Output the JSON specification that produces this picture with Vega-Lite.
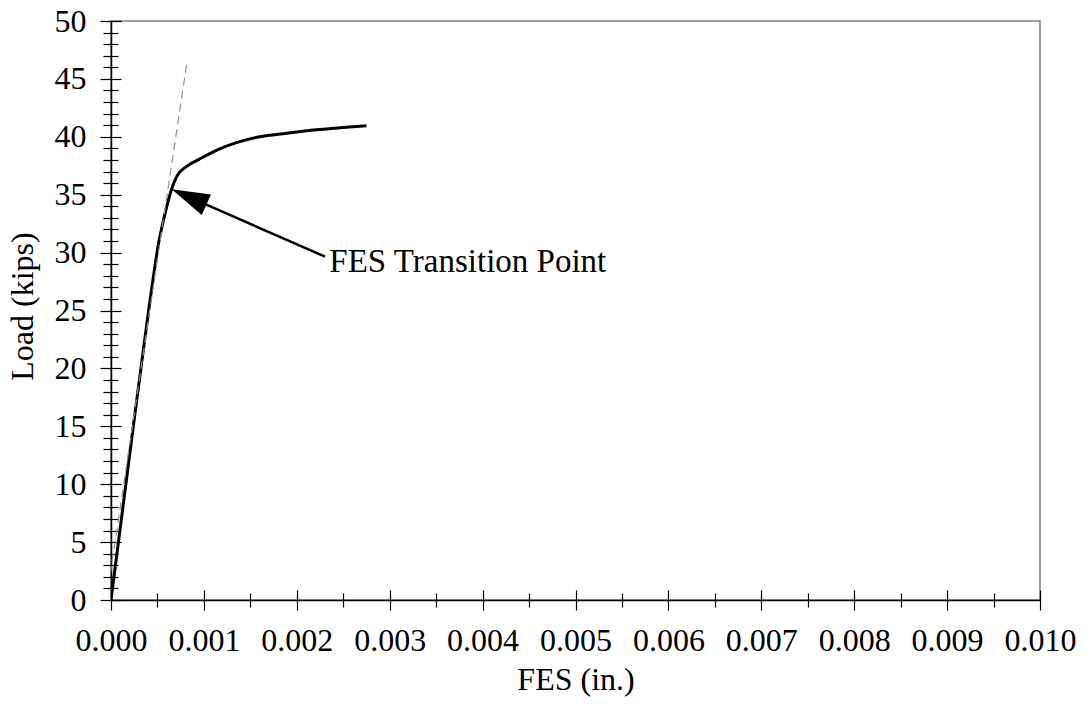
{
  "$schema": "https://vega.github.io/schema/vega-lite/v6.json",
  "autosize": "none",
  "width": 929,
  "height": 579,
  "padding": {"left": 111, "top": 21, "right": 46, "bottom": 126},
  "background": "white",
  "config": {
    "view": {"stroke": "#808080", "strokeWidth": 1.5},
    "font": "Liberation Serif",
    "axis": {
      "grid": false,
      "labelFont": "Liberation Serif",
      "labelFontSize": 32,
      "labelColor": "#000",
      "titleFont": "Liberation Serif",
      "titleFontSize": 32,
      "titleFontWeight": "normal",
      "titleColor": "#000",
      "domainColor": "#000",
      "domainWidth": 1.5,
      "tickColor": "#000",
      "tickWidth": 1.2,
      "labelFlush": false,
      "labelOverlap": false
    }
  },
  "datasets": {
    "curve": [
      {"fes": 0.0, "load": 0.0},
      {"fes": 0.00008, "load": 5.0},
      {"fes": 0.00016, "load": 10.0},
      {"fes": 0.00024, "load": 15.0},
      {"fes": 0.000322, "load": 20.0},
      {"fes": 0.000405, "load": 25.0},
      {"fes": 0.000458, "load": 28.0},
      {"fes": 0.000512, "load": 30.8},
      {"fes": 0.000565, "load": 32.8},
      {"fes": 0.000617, "load": 34.5},
      {"fes": 0.000653, "load": 35.5},
      {"fes": 0.000710, "load": 36.6},
      {"fes": 0.000815, "load": 37.45},
      {"fes": 0.000958, "load": 38.1},
      {"fes": 0.00114, "load": 38.85},
      {"fes": 0.00135, "load": 39.5},
      {"fes": 0.00160, "load": 40.0},
      {"fes": 0.00189, "load": 40.3},
      {"fes": 0.00221, "load": 40.6},
      {"fes": 0.00257, "load": 40.85},
      {"fes": 0.00275, "load": 40.95}
    ],
    "fit": [
      {"fes": -0.00005, "load": 0.0},
      {"fes": 0.000815, "load": 46.3}
    ],
    "arrow": [
      {"fes": 0.000653, "load": 35.47, "fes2": 0.000928, "load2": 34.48, "fesEnd": 0.002304, "loadEnd": 29.65, "textFes": 0.002350, "textLoad": 28.35, "label": "FES Transition Point"}
    ]
  },
  "resolve": {"axis": {"x": "independent", "y": "independent"}},
  "layer": [
    {
      "data": {"name": "curve"},
      "mark": {"type": "line", "color": "#000", "strokeWidth": 3, "clip": true, "interpolate": "monotone"},
      "encoding": {
        "x": {"field": "fes", "type": "quantitative", "scale": {"domain": [0, 0.01], "nice": false, "zero": false},
          "axis": {"orient": "bottom", "values": [0, 0.001, 0.002, 0.003, 0.004, 0.005, 0.006, 0.007, 0.008, 0.009, 0.01], "format": ".3f", "tickSize": 10, "labelPadding": 15, "title": "FES (in.)", "titlePadding": 8}},
        "y": {"field": "load", "type": "quantitative", "scale": {"domain": [0, 50], "nice": false},
          "axis": {"orient": "left", "values": [0, 5, 10, 15, 20, 25, 30, 35, 40, 45, 50], "tickSize": 11, "labelPadding": 14, "title": "Load (kips)", "titlePadding": 15, "titleY": 285}}
      }
    },
    {
      "data": {"name": "fit"},
      "mark": {"type": "line", "color": "#909090", "strokeWidth": 1.2, "strokeDash": [8, 5], "clip": true},
      "encoding": {
        "x": {"field": "fes", "type": "quantitative", "scale": {"domain": [0, 0.01], "nice": false, "zero": false},
          "axis": {"orient": "bottom", "values": [0, 0.001, 0.002, 0.003, 0.004, 0.005, 0.006, 0.007, 0.008, 0.009, 0.01], "tickSize": -10, "labels": false, "domain": false, "title": null}},
        "y": {"field": "load", "type": "quantitative", "scale": {"domain": [0, 50], "nice": false},
          "axis": {"orient": "left", "values": [0, 5, 10, 15, 20, 25, 30, 35, 40, 45, 50], "tickSize": -10, "labels": false, "domain": false, "title": null}}
      }
    },
    {
      "data": {"name": "arrow"},
      "mark": {"type": "rule", "color": "#000", "strokeWidth": 2.5},
      "encoding": {
        "x": {"field": "fes2", "type": "quantitative", "scale": {"domain": [0, 0.01], "nice": false, "zero": false},
          "axis": {"orient": "bottom", "values": [0.0005, 0.0015, 0.0025, 0.0035, 0.0045, 0.0055, 0.0065, 0.0075, 0.0085, 0.0095], "tickSize": 7, "labels": false, "domain": false, "title": null}},
        "y": {"field": "load2", "type": "quantitative", "scale": {"domain": [0, 50], "nice": false},
          "axis": {"orient": "left", "values": [1, 2, 3, 4, 6, 7, 8, 9, 11, 12, 13, 14, 16, 17, 18, 19, 21, 22, 23, 24, 26, 27, 28, 29, 31, 32, 33, 34, 36, 37, 38, 39, 41, 42, 43, 44, 46, 47, 48, 49], "tickSize": 8, "labels": false, "domain": false, "title": null}},
        "x2": {"field": "fesEnd"},
        "y2": {"field": "loadEnd"}
      }
    },
    {
      "data": {"name": "arrow"},
      "mark": {"type": "point", "filled": true, "color": "#000", "opacity": 1, "shape": "M0,0L-0.59,2L0.59,2Z", "size": 1444, "angle": 294.2, "strokeWidth": 0},
      "encoding": {
        "x": {"field": "fes", "type": "quantitative", "scale": {"domain": [0, 0.01], "nice": false, "zero": false},
          "axis": {"orient": "bottom", "values": [0.0005, 0.0015, 0.0025, 0.0035, 0.0045, 0.0055, 0.0065, 0.0075, 0.0085, 0.0095], "tickSize": -7, "labels": false, "domain": false, "title": null}},
        "y": {"field": "load", "type": "quantitative", "scale": {"domain": [0, 50], "nice": false},
          "axis": {"orient": "left", "values": [1, 2, 3, 4, 6, 7, 8, 9, 11, 12, 13, 14, 16, 17, 18, 19, 21, 22, 23, 24, 26, 27, 28, 29, 31, 32, 33, 34, 36, 37, 38, 39, 41, 42, 43, 44, 46, 47, 48, 49], "tickSize": -7, "labels": false, "domain": false, "title": null}}
      }
    },
    {
      "data": {"name": "arrow"},
      "mark": {"type": "text", "align": "left", "baseline": "alphabetic", "font": "Liberation Serif", "fontSize": 33, "color": "#000"},
      "encoding": {
        "x": {"field": "textFes", "type": "quantitative", "axis": null},
        "y": {"field": "textLoad", "type": "quantitative", "axis": null},
        "text": {"field": "label"}
      }
    },
    {
      "mark": {"type": "rule", "color": "#000", "strokeWidth": 1.5},
      "encoding": {
        "x": {"datum": 0.01, "type": "quantitative", "axis": null}
      }
    }
  ]
}
